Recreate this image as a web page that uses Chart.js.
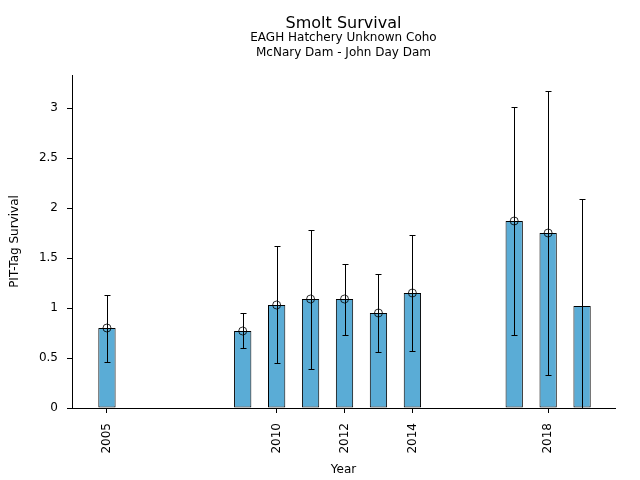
<!DOCTYPE html>
<html>
<head>
<meta charset="utf-8">
<script src="https://cdn.jsdelivr.net/npm/chart.js@4/dist/chart.umd.min.js"></script>
<style>
  html, body { margin: 0; padding: 0; background: #fff; }
  #chart { display: block; }
</style>
</head>
<body>
<canvas id="chart" width="640" height="480"></canvas>
<script>
// data
const years = [2005, 2009, 2010, 2011, 2012, 2013, 2014, 2017, 2018, 2019];
const survival = [0.80, 0.77, 1.03, 1.09, 1.09, 0.95, 1.15, 1.87, 1.75, 1.02];
const markerValues = [0.80, 0.77, 1.03, 1.09, 1.09, 0.95, 1.15, 1.87, 1.75, null];
const lowerCI = [0.46, 0.60, 0.45, 0.39, 0.73, 0.56, 0.57, 0.73, 0.33, -0.1];
const upperCI = [1.13, 0.95, 1.62, 1.78, 1.44, 1.34, 1.73, 3.01, 3.17, 2.09];
const xTickYears = [2005, 2010, 2012, 2014, 2018];
const yTickValues = [0, 0.5, 1, 1.5, 2, 2.5, 3];

const barColor = '#5aacd6';

// draws the confidence interval whiskers right after the bars
const errorBarPlugin = {
    id: 'errorBars',
    afterDatasetDraw(chart, args) {
        if (args.index !== 0) return;
        const ctx = chart.ctx;
        const x = chart.scales.x;
        const y = chart.scales.y;
        const area = chart.chartArea;
        ctx.save();
        ctx.beginPath();
        ctx.rect(area.left, area.top, area.right - area.left, area.bottom - area.top);
        ctx.clip();
        ctx.strokeStyle = '#000';
        ctx.lineWidth = 1;
        for (let i = 0; i < years.length; i++) {
            const px = Math.round(x.getPixelForValue(years[i])) + 0.5;
            const lo = y.getPixelForValue(lowerCI[i]);
            const hi = y.getPixelForValue(upperCI[i]);
            ctx.beginPath();
            ctx.moveTo(px, lo);
            ctx.lineTo(px, hi);
            ctx.moveTo(px - 3, Math.round(lo) + 0.5);
            ctx.lineTo(px + 3, Math.round(lo) + 0.5);
            ctx.moveTo(px - 3, Math.round(hi) + 0.5);
            ctx.lineTo(px + 3, Math.round(hi) + 0.5);
            ctx.stroke();
        }
        ctx.restore();
    }
};

const ctx = document.getElementById('chart').getContext('2d');
new Chart(ctx, {
    type: 'bar',
    data: {
        datasets: [{
            type: 'bar',
            label: 'Survival',
            data: years.map((yr, i) => ({ x: yr, y: survival[i] })),
            backgroundColor: barColor,
            borderColor: '#000',
            borderWidth: 1,
            borderSkipped: false,
            categoryPercentage: 1,
            barPercentage: 0.51,
            order: 1
        }, {
            type: 'line',
            label: 'Estimate',
            data: years.map((yr, i) => ({ x: yr, y: markerValues[i] })),
            showLine: false,
            pointStyle: 'circle',
            pointRadius: 4,
            pointBorderWidth: 1,
            pointBackgroundColor: 'rgba(0,0,0,0)',
            pointBorderColor: 'rgba(0,0,0,0.8)',
            order: 0
        }]
    },
    options: {
        responsive: false,
        animation: false,
        devicePixelRatio: 1,
        layout: { padding: { top: 0, right: 25, bottom: 0, left: 0 } },
        plugins: {
            legend: { display: false },
            tooltip: { enabled: false },
            title: {
                display: true,
                fullSize: false,
                text: 'Smolt Survival',
                color: '#000',
                font: { family: 'DejaVu Sans', size: 16, weight: 'normal', lineHeight: 0.8 },
                padding: { top: 17.8, bottom: 0 }
            },
            subtitle: {
                display: true,
                fullSize: false,
                text: ['EAGH Hatchery Unknown Coho', 'McNary Dam - John Day Dam'],
                color: '#000',
                font: { family: 'DejaVu Sans', size: 12, lineHeight: 1.25 },
                padding: { top: 0, bottom: 14.4 }
            }
        },
        scales: {
            x: {
                type: 'linear',
                min: 2003.97,
                max: 2019.97,
                offset: false,
                afterBuildTicks(scale) {
                    scale.ticks = xTickYears.map(v => ({ value: v }));
                },
                afterFit(scale) { scale.height = 72; },
                grid: { display: true, offset: false, drawOnChartArea: false, drawTicks: true, tickLength: 5, tickColor: '#000' },
                border: { display: true, color: '#000', width: 1 },
                ticks: {
                    color: '#000',
                    font: { family: 'DejaVu Sans', size: 12 },
                    minRotation: 90,
                    maxRotation: 90,
                    padding: 10,
                    autoSkip: false,
                    callback: v => String(v)
                },
                title: {
                    display: true,
                    text: 'Year',
                    color: '#000',
                    font: { family: 'DejaVu Sans', size: 12 },
                    padding: { top: 0, bottom: 3 }
                }
            },
            y: {
                min: 0,
                max: 3.33,
                afterBuildTicks(scale) {
                    scale.ticks = yTickValues.map(v => ({ value: v }));
                },
                afterFit(scale) { scale.width = 72; },
                grid: { display: true, drawOnChartArea: false, drawTicks: true, tickLength: 5, tickColor: '#000' },
                border: { display: true, color: '#000', width: 1 },
                ticks: {
                    color: '#000',
                    font: { family: 'DejaVu Sans', size: 12 },
                    padding: 9,
                    callback: v => String(v)
                },
                title: {
                    display: true,
                    text: 'PIT-Tag Survival',
                    color: '#000',
                    font: { family: 'DejaVu Sans', size: 12 },
                    padding: { top: 7.8, bottom: 0 }
                }
            }
        }
    },
    plugins: [errorBarPlugin]
});
</script>
</body>
</html>
